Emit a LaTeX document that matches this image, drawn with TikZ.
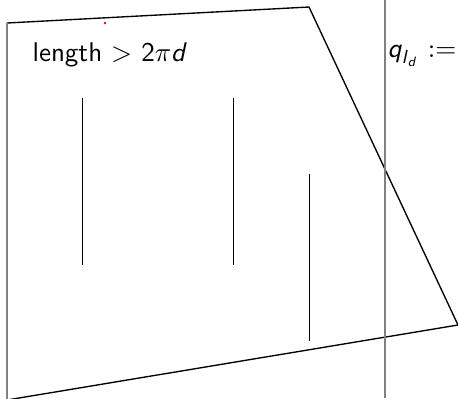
\documentclass[tikz,border=0pt]{standalone}
\usepackage{amsmath}
\usepackage{tikz}
\usetikzlibrary{positioning}
\newcommand{\sfit}[1]{\textsf{\textit{#1}}}

\begin{document}
\begin{tikzpicture}[x=0.013cm, y=-0.013cm, every node/.style={font=\sffamily}]
\tikzstyle{edge}=[black,line width=0.5pt]
\tikzstyle{rule}=[gray,line width=0.8pt]
\tikzstyle{stick}=[black,line width=0.6pt]
\useasboundingbox (0,0) rectangle (458,398);
\clip (0,0) rectangle (458,398);
\coordinate (tl) at (7,23);
\coordinate (tr) at (309,7);
\coordinate (br) at (458,325);
\coordinate (bl) at (7,400);
\coordinate (top) at (385,0);
\coordinate (bot) at (385,398);
\coordinate (dot) at (105,23);
\coordinate (s1a) at (82.5,98);
\coordinate (s1b) at (82.5,265);
\coordinate (s2a) at (233.5,98);
\coordinate (s2b) at (233.5,265);
\coordinate (s3a) at (309.5,174);
\coordinate (s3b) at (309.5,341);
\node[anchor=base west,inner sep=0pt] (len) at (32,61) {length $>$ 2$\pi$\textit{d}};
\node[anchor=base west,inner sep=0pt] (q) at (387,57) {$\sfit{q}_{\sfit{l}_{\sfit{d}}}$ $:=$};
\draw[edge] (tl) -- (tr) -- (br) -- (bl);
\draw[rule] (bl) -- (tl);
\draw[rule] (top) -- (bot);
\draw[stick] (s1a) -- (s1b);
\draw[stick] (s2a) -- (s2b);
\draw[stick] (s3a) -- (s3b);
\fill[red] (dot) circle (0.5pt);
\end{tikzpicture}
\end{document}
